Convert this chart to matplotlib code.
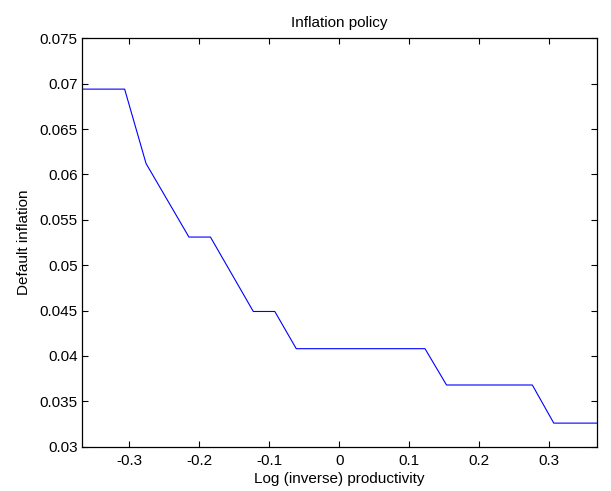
import matplotlib
matplotlib.use("Agg")
import matplotlib.pyplot as plt

# vertices of the piecewise-linear policy curve
log_prod = [-0.3676, -0.3063, -0.2757, -0.2145, -0.1838, -0.1226, -0.0919,
            -0.0613, 0.1225, 0.1532, 0.2757, 0.3063, 0.3676]
default_infl = [0.0694, 0.0694, 0.0612, 0.0531, 0.0531, 0.0449, 0.0449,
                0.0408, 0.0408, 0.0368, 0.0368, 0.0326, 0.0326]

xticks = [-0.3, -0.2, -0.1, 0, 0.1, 0.2, 0.3]
xticklabels = ["-0.3", "-0.2", "-0.1", "0", "0.1", "0.2", "0.3"]
yticks = [0.03, 0.035, 0.04, 0.045, 0.05, 0.055, 0.06, 0.065, 0.07, 0.075]
yticklabels = ["0.03", "0.035", "0.04", "0.045", "0.05", "0.055", "0.06",
               "0.065", "0.07", "0.075"]

plt.rcParams["font.family"] = ["Liberation Sans", "DejaVu Sans"]
plt.rcParams["font.size"] = 11

fig = plt.figure(figsize=(6.11, 4.91), dpi=100)
ax = fig.add_axes([0.1337, 0.0902, 0.8429, 0.8318])
ax.plot(log_prod, default_infl, color="blue", lw=0.8)

ax.set_xlim(-0.3676, 0.3676)
ax.set_ylim(0.03, 0.075)
ax.set_xticks(xticks)
ax.set_xticklabels(xticklabels)
ax.set_yticks(yticks)
ax.set_yticklabels(yticklabels)
ax.tick_params(direction="in", length=4, width=0.8, top=True, right=True)
ax.tick_params(axis="x", pad=5)
ax.tick_params(axis="y", pad=3)
for s in ax.spines.values():
    s.set_linewidth(0.9)

ax.set_title("Inflation policy", fontsize=11, pad=8)
ax.set_xlabel("Log (inverse) productivity", fontsize=11, labelpad=3)
ax.set_ylabel("Default inflation", fontsize=11, labelpad=6)

fig.savefig("out.png", dpi=100)
